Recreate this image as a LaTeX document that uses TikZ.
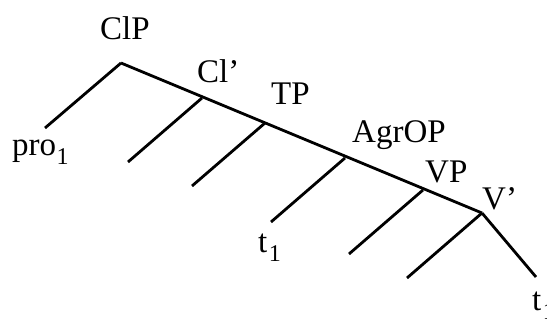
\documentclass[tikz,border=0pt]{standalone}
\usepackage{fontspec}
\setmainfont{Liberation Serif}
\begin{document}
\begin{tikzpicture}[x=1pt,y=-1pt,
  branch/.style={line width=2.8pt, line cap=butt},
  lbl/.style={inner sep=0pt, anchor=base west, font=\fontsize{33}{36}\selectfont},
  sub/.style={inner sep=0pt, anchor=base west, font=\fontsize{24}{26}\selectfont}]
\useasboundingbox (0,0) rectangle (547,320);
% branch points
\coordinate (clp) at (121,63);
\coordinate (clbar) at (202,98);
\coordinate (tp) at (265,123);
\coordinate (agrop) at (345,158);
\coordinate (vp) at (423,190);
\coordinate (vbar) at (482,213);
% leaves
\coordinate (proleaf) at (45,128);
\coordinate (clleaf) at (128,162);
\coordinate (tleaf) at (192,186);
\coordinate (agrleaf) at (271,222);
\coordinate (vpleaf) at (349,254);
\coordinate (vleaf) at (407,278);
\coordinate (tright) at (536,277);
% edges
\draw[branch] (clp) -- (vbar);
\draw[branch] (clp) -- (proleaf);
\draw[branch] (clbar) -- (clleaf);
\draw[branch] (tp) -- (tleaf);
\draw[branch] (agrop) -- (agrleaf);
\draw[branch] (vp) -- (vpleaf);
\draw[branch] (vbar) -- (vleaf);
\draw[branch] (vbar) -- (tright);
% labels
\node[lbl] (lclp) at (100,40) {ClP};
\node[lbl] (lclbar) at (197,83) {Cl’};
\node[lbl] (ltp) at (271,105) {TP};
\node[lbl] (lagrop) at (352,143) {AgrOP};
\node[lbl] (lvp) at (425,183) {VP};
\node[lbl] (lvbar) at (482,210) {V’};
\node[lbl] (lpro) at (12,156) {pro};
\node[sub] (lpros) at (lpro.base east) [yshift=-9pt] {1};
\node[lbl] (lt1) at (258,253) {t};
\node[sub] (lt1s) at (lt1.base east) [yshift=-9pt,xshift=1pt] {1};
\node[lbl] (lt2) at (532,311) {t};
\node[sub] (lt2s) at (lt2.base east) [yshift=-9pt,xshift=1pt] {1};
\end{tikzpicture}
\end{document}
